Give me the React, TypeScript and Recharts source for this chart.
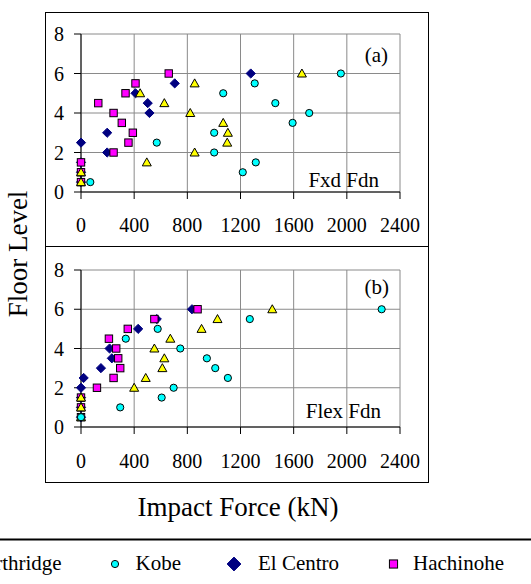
import { CartesianGrid, Scatter, ScatterChart, XAxis, YAxis } from "recharts";

const FONT = "'Liberation Serif', 'DejaVu Serif', 'Times New Roman', Times, serif";

const forceTicks = [0, 400, 800, 1200, 1600, 2000, 2400];
const floorTicks = [0, 2, 4, 6, 8];

// (a) fixed foundation
const fxdNorthridgeForce = [0, 0, 445, 495, 627, 822, 855, 855, 1070, 1105, 1100, 1662];
const fxdNorthridgeFloor = [1, 0.5, 5, 1.5, 4.5, 4, 5.5, 2, 3.5, 3, 2.5, 6];
const fxdKobeForce = [70, 570, 1002, 1002, 1070, 1217, 1307, 1315, 1462, 1592, 1717, 1955];
const fxdKobeFloor = [0.5, 2.5, 3, 2, 5, 1, 5.5, 1.5, 4.5, 3.5, 4, 6];
const fxdElCentroForce = [0, 0, 0, 0, 197, 197, 410, 502, 515, 705, 1277];
const fxdElCentroFloor = [0.5, 1, 1.5, 2.5, 3, 2, 5, 4.5, 4, 5.5, 6];
const fxdHachinoheForce = [0, 0, 0, 130, 245, 245, 307, 335, 357, 390, 410, 660];
const fxdHachinoheFloor = [1.5, 1, 0.5, 4.5, 4, 2, 3.5, 5, 2.5, 3, 5.5, 6];

// (b) flexible foundation
const flexNorthridgeForce = [0, 0, 0, 400, 487, 552, 627, 612, 672, 907, 1027, 1439];
const flexNorthridgeFloor = [0.5, 1.5, 1, 2, 2.5, 4, 3.5, 3, 4.5, 5, 5.5, 6];
const flexKobeForce = [0, 295, 337, 577, 607, 697, 747, 947, 1010, 1105, 1270, 2262];
const flexKobeFloor = [0.5, 1, 4.5, 5, 1.5, 2, 4, 3.5, 3, 2.5, 5.5, 6];
const flexElCentroForce = [0, 0, 0, 0, 20, 150, 215, 232, 430, 570, 835];
const flexElCentroFloor = [0.5, 1, 1.5, 2, 2.5, 3, 4, 3.5, 5, 5.5, 6];
const flexHachinoheForce = [0, 0, 0, 120, 210, 265, 280, 295, 245, 352, 552, 877];
const flexHachinoheFloor = [1.5, 1, 0.5, 2, 4.5, 4, 3.5, 3, 2.5, 5, 5.5, 6];

type Kind = "triangle" | "circle" | "diamond" | "square";

const zip = (xs: number[], ys: number[]) => xs.map((x, i) => ({ x, y: ys[i] }));

function Marker({ kind, cx, cy, s = 1 }: { kind: Kind; cx: number; cy: number; s?: number }) {
  if (kind === "triangle")
    return (
      <polygon
        points={`${cx},${cy - 4.5 * s} ${cx + 4.5 * s},${cy + 3.5 * s} ${cx - 4.5 * s},${cy + 3.5 * s}`}
        fill="#ffff00"
        stroke="#000"
      />
    );
  if (kind === "circle") return <circle cx={cx} cy={cy} r={3.6 * s} fill="#00ffff" stroke="#000" />;
  if (kind === "diamond")
    return (
      <polygon
        points={`${cx},${cy - 4.6 * s} ${cx + 4.6 * s},${cy} ${cx},${cy + 4.6 * s} ${cx - 4.6 * s},${cy}`}
        fill="#000080"
        stroke="#000080"
      />
    );
  return (
    <rect x={cx - 3.7 * s} y={cy - 3.7 * s} width={7.4 * s} height={7.4 * s} fill="#ff00ff" stroke="#000" />
  );
}

interface SeriesDef {
  name: string;
  kind: Kind;
  points: { x: number; y: number }[];
}

const fxdSeries: SeriesDef[] = [
  { name: "El Centro", kind: "diamond", points: zip(fxdElCentroForce, fxdElCentroFloor) },
  { name: "Hachinohe", kind: "square", points: zip(fxdHachinoheForce, fxdHachinoheFloor) },
  { name: "Northridge", kind: "triangle", points: zip(fxdNorthridgeForce, fxdNorthridgeFloor) },
  { name: "Kobe", kind: "circle", points: zip(fxdKobeForce, fxdKobeFloor) },
];

const flexSeries: SeriesDef[] = [
  { name: "El Centro", kind: "diamond", points: zip(flexElCentroForce, flexElCentroFloor) },
  { name: "Hachinohe", kind: "square", points: zip(flexHachinoheForce, flexHachinoheFloor) },
  { name: "Northridge", kind: "triangle", points: zip(flexNorthridgeForce, flexNorthridgeFloor) },
  { name: "Kobe", kind: "circle", points: zip(flexKobeForce, flexKobeFloor) },
];

const legendItems: { name: string; kind: Kind; mx: number; tx: number; s: number }[] = [
  { name: "Northridge", kind: "triangle", mx: -52, tx: -30.5, s: 1.2 },
  { name: "Kobe", kind: "circle", mx: 115, tx: 135.5, s: 1 },
  { name: "El Centro", kind: "diamond", mx: 234, tx: 258, s: 1.5 },
  { name: "Hachinohe", kind: "square", mx: 393.5, tx: 413, s: 1.1 },
];

const tickStyle = { fontSize: 20, fill: "#000", fontFamily: FONT };

function Panel({
  series,
  top,
  height,
  marginTop,
  plotHeight,
  tickGap,
}: {
  series: SeriesDef[];
  top: number;
  height: number;
  marginTop: number;
  plotHeight: number;
  tickGap: number;
}) {
  return (
    <div style={{ position: "absolute", left: 45, top, width: 384, height: height + 1 }}>
      <div
        style={{
          position: "absolute",
          inset: 0,
          border: "1px solid #000",
          boxSizing: "border-box",
        }}
      />
      <ScatterChart
        width={383}
        height={height}
        margin={{ top: marginTop, right: 28, left: 0, bottom: 0 }}
        style={{ fontFamily: FONT }}
      >
        <CartesianGrid stroke="#8a8a8a" />
        <XAxis
          type="number"
          dataKey="x"
          domain={[0, 2400]}
          ticks={forceTicks}
          interval={0}
          height={height - marginTop - plotHeight}
          tickSize={7}
          tickMargin={tickGap}
          tick={tickStyle}
          axisLine={{ stroke: "#000" }}
          tickLine={{ stroke: "#000" }}
        />
        <YAxis
          type="number"
          dataKey="y"
          domain={[0, 8]}
          ticks={floorTicks}
          interval={0}
          width={36}
          tickSize={7}
          tickMargin={10}
          tick={tickStyle}
          axisLine={{ stroke: "#000" }}
          tickLine={{ stroke: "#000" }}
        />
        <XAxis
          xAxisId="top"
          orientation="top"
          type="number"
          domain={[0, 1]}
          height={0}
          tick={false}
          tickLine={false}
          axisLine={{ stroke: "#000" }}
        />
        <YAxis
          yAxisId="right"
          orientation="right"
          type="number"
          domain={[0, 1]}
          width={0}
          tick={false}
          tickLine={false}
          axisLine={{ stroke: "#000" }}
        />
        {series.map((s) => (
          <Scatter
            key={s.name}
            name={s.name}
            data={s.points}
            isAnimationActive={false}
            shape={(p: any) => <Marker kind={s.kind} cx={p.cx} cy={p.cy} />}
          />
        ))}
      </ScatterChart>
    </div>
  );
}

export default function App() {
  return (
    <div
      style={{
        position: "absolute",
        left: 0,
        top: 0,
        width: 531,
        height: 584,
        background: "#fff",
        fontFamily: FONT,
        overflow: "hidden",
      }}
    >
      <Panel series={fxdSeries} top={12} height={234} marginTop={22} plotHeight={158} tickGap={19} />
      <Panel series={flexSeries} top={246} height={236} marginTop={24} plotHeight={157} tickGap={20} />
      <svg
        width={531}
        height={584}
        style={{ position: "absolute", left: 0, top: 0, pointerEvents: "none", fontFamily: FONT }}
      >
        <text x={388} y={62} fontSize={21} textAnchor="end">(a)</text>
        <text x={379} y={187} fontSize={21} textAnchor="end">Fxd Fdn</text>
        <text x={389} y={294} fontSize={21} textAnchor="end">(b)</text>
        <text x={381} y={418} fontSize={21} textAnchor="end">Flex Fdn</text>
        <text x={238} y={516} fontSize={27} textAnchor="middle">Impact Force (kN)</text>
        <text transform="translate(27,254) rotate(-90)" fontSize={27} textAnchor="middle">
          Floor Level
        </text>
        <line x1={0} x2={531} y1={539.5} y2={539.5} stroke="#000" strokeWidth={2} />
        {legendItems.map((it) => (
          <g key={it.name}>
            <Marker kind={it.kind} cx={it.mx} cy={564} s={it.s} />
            <text x={it.tx} y={570} fontSize={21}>
              {it.name}
            </text>
          </g>
        ))}
      </svg>
    </div>
  );
}
